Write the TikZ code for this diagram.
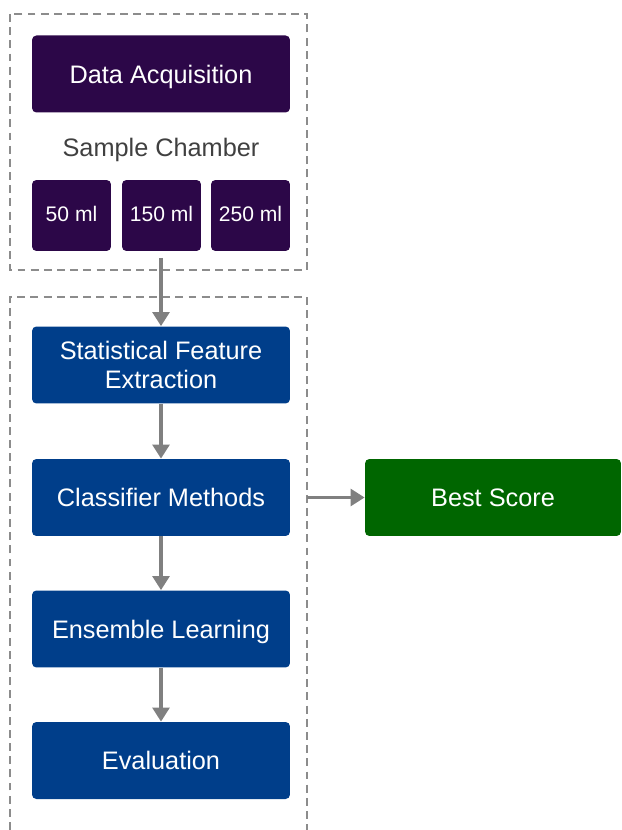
\documentclass[tikz,border=0pt]{standalone}
\usepackage{fontspec}
\setmainfont{Liberation Sans}
\usetikzlibrary{arrows.meta}

\definecolor{acqpurple}{RGB}{44,7,72}
\definecolor{stepblue}{RGB}{0,62,138}
\definecolor{bestgreen}{RGB}{0,102,0}
\definecolor{framegray}{RGB}{140,140,140}
\definecolor{arrowgray}{RGB}{128,128,128}

\begin{document}
\begin{tikzpicture}[x=0.02cm,y=-0.02cm]
	\tikzstyle{box}=[rounded corners=2.5pt,text=white,font=\fontsize{14.4}{16.5}\selectfont,align=center,minimum width=5.16cm,minimum height=1.54cm,inner sep=2pt,text depth=0pt]
	\tikzstyle{chamber}=[rounded corners=2.5pt,fill=acqpurple,text=white,font=\fontsize{12}{14}\selectfont,minimum width=1.58cm,minimum height=1.42cm,inner sep=1pt,text height=0.72em,text depth=0pt]
	\tikzstyle{frame}=[draw=framegray,line width=1.1pt,dash pattern=on 4.5pt off 3pt]
	\tikzstyle{flow}=[draw=arrowgray,line width=2.2pt,-{Triangle[length=8pt,width=9.5pt]}]
	\useasboundingbox (0,0) rectangle (621,830);
	% groups
	\draw[frame] (10,14) rectangle (307,270);
	\draw[frame] (10,830) |- (307,297) -- (307,830);
	\coordinate (grpright) at (307,497.5);
	\coordinate (acqout) at (161,258);
	% data acquisition
	\node[box,fill=acqpurple] (acq) at (161,74) {Data Acquisition};
	\node[text=black!75,font=\fontsize{14.4}{16.5}\selectfont,text depth=0pt] (cham) at (161,147) {Sample Chamber};
	\node[chamber] (ml50) at (71.5,215.5) {50 ml};
	\node[chamber] (ml150) at (161.5,215.5) {150 ml};
	\node[chamber] (ml250) at (250.5,215.5) {250 ml};
	% processing
	\node[box,fill=stepblue] (sfe) at (161,365) {Statistical Feature\\Extraction};
	\node[box,fill=stepblue] (cls) at (161,497.5) {Classifier Methods};
	\node[box,fill=stepblue] (ens) at (161,629) {Ensemble Learning};
	\node[box,fill=stepblue] (evl) at (161,760.5) {Evaluation};
	\node[box,fill=bestgreen,minimum width=5.12cm] (best) at (493,497.5) {Best Score};
	\draw[flow] (acqout) -- (sfe);
	\draw[flow] (sfe) -- (cls);
	\draw[flow] (cls) -- (ens);
	\draw[flow] (ens) -- (evl);
	\draw[flow] (grpright) -- (best);
\end{tikzpicture}
\end{document}
